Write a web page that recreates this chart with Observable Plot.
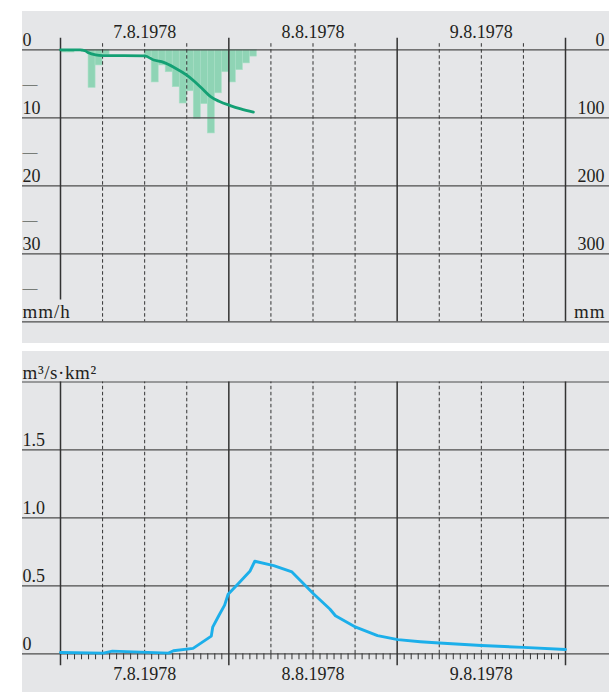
<!DOCTYPE html>
<html><head><meta charset="utf-8">
<script src="https://cdn.jsdelivr.net/npm/d3@7"></script>
<script src="https://cdn.jsdelivr.net/npm/@observablehq/plot@0.6"></script>
<style>
body{margin:0;background:#fff;}
#wrap{position:relative;width:609px;height:695px;overflow:hidden;}
.bg{position:absolute;background:#e5e6e8;}
#topChart,#botChart{position:absolute;left:0;}
#topChart{top:0}
#botChart{top:347px}
</style></head><body>
<div id="wrap">
<div class="bg" style="left:22px;top:11px;width:587px;height:332px"></div>
<div class="bg" style="left:22px;top:351px;width:587px;height:341px"></div>
<div id="topChart"></div><div id="botChart"></div>
</div>
<script>
// ---- data ----
const dayLabels = ["7.8.1978", "8.8.1978", "9.8.1978"];
const dayMid = [12, 36, 60];          // hours since 7.8.1978 00:00
const dayBounds = [0, 24, 48, 72];
const sixHours = [6, 12, 18, 30, 36, 42, 54, 60, 66];

// hourly rainfall intensity (mm/h)
const rainHour = [0,1,2,3,4,5,6,7,8,9,10,11,12,13,14,15,16,17,18,19,20,21,22,23,24,25,26,27];
const rainRate = [0.4,0.4,0.2,0.3,5.6,2.3,0.7,0,0,0,0,0,1.0,4.8,2.3,3.3,5.5,7.9,6.1,10.2,8.0,12.3,6.4,3.3,4.8,3.0,2.0,1.0];

// cumulative rainfall (mm)
const cumHour = [0,2.8,3.5,4,5,6,12,13.3,14.7,16.2,18.1,20,21.4,22.6,24.2,25.7,27.5];
const cumMm   = [0,0,1.5,4.5,7.5,8.5,8.8,15,18.5,25.9,38,55,68.8,75.7,82,86.9,91.7];

// specific runoff (m3/s·km2)
const qHour = [0,6.1,7.4,15.4,16.1,18.9,21.5,21.7,22.6,23.4,23.9,25.4,27,27.7,30.4,33,34.2,36.1,38.4,39.2,42.1,45.2,48.1,51.3,54,60,66,72];
const qVal  = [0.01,0.005,0.02,0.005,0.022,0.04,0.13,0.196,0.284,0.358,0.438,0.52,0.607,0.681,0.649,0.602,0.54,0.44,0.33,0.28,0.196,0.134,0.104,0.089,0.079,0.061,0.047,0.032];

const rainTicks = [0, 10, 20, 30];
const rainTickLabels = ["0", "10", "20", "30"];
const rainMinor = [5, 15, 25, 35];
const sumTickLabels = ["0", "100", "200", "300"];
const qTicks = [0, 0.5, 1, 1.5];
const qTickLabels = ["0", "0.5", "1.0", "1.5"];
const unitRate = "mm/h", unitSum = "mm", unitQ = "m³/s·km²";

// ---- layout ----
const W = 609, ML = 60, MR = 44, PANEL_L = 22;
const pxPerHour = (W - ML - MR) / 72;
const xLo = (PANEL_L - ML) / pxPerHour;
const xHi = (W - ML) / pxPerHour;
const FONT = "Liberation Serif, Times New Roman, serif";
const FS = 18;
const INK = "#231f20";
const GRID = "#4d4d4d";

const rain = rainHour.map((h, i) => ({h, v: rainRate[i]}));
const cum = cumHour.map((h, i) => ({h, mm: cumMm[i]}));
const runoff = qHour.map((h, i) => ({h, q: qVal[i]}));
const hourTicks = d3.range(1, 72).filter(h => h % 24 !== 0);

const txt = {fontFamily: FONT, fontSize: FS, fill: INK, lineAnchor: "bottom"};
const unitTxt = {...txt, fontSize: 19};

const topPlot = Plot.plot({
  width: W, height: 347,
  marginLeft: ML, marginRight: MR, marginTop: 49.3, marginBottom: 25.7,
  style: {background: "none", overflow: "visible"},
  x: {domain: [0, 72], axis: null},
  y: {domain: [0, 40], reverse: true, axis: null},
  marks: [
    Plot.rect(rain, {x1: "h", x2: d => d.h + 1, y1: 0, y2: "v", fill: "#8fd4b5", stroke: "#a9dfc7", strokeWidth: 0.6}),
    Plot.ruleY([0, 10, 20, 30, 40], {x1: () => xLo, x2: () => xHi, stroke: GRID, strokeWidth: 1.2}),
    Plot.ruleX(sixHours, {y1: -0.9, y2: 40, stroke: "#333", strokeWidth: 1, strokeDasharray: "3.5,2.5"}),
    Plot.ruleX([24, 48, 72], {y1: -1.7, y2: 40, stroke: "#333", strokeWidth: 1.5}),
    Plot.ruleX([0], {y1: -1.7, y2: 36.8, stroke: "#333", strokeWidth: 1.5}),
    Plot.line(cum, {x: "h", y: d => d.mm / 10, stroke: "#14a074", strokeWidth: 2.8, curve: "monotone-x"}),
    Plot.text(rainTicks, {...txt, y: d => d, text: (d, i) => rainTickLabels[i], frameAnchor: "left", textAnchor: "start", dx: PANEL_L - ML, dy: -3.5}),
    Plot.text(rainMinor, {...txt, lineAnchor: "middle", fontSize: 15, y: d => d, text: () => "—", frameAnchor: "left", textAnchor: "start", dx: PANEL_L - ML}),
    Plot.text([40], {...unitTxt, y: d => d, text: () => unitRate, frameAnchor: "left", textAnchor: "start", dx: PANEL_L - ML, dy: -3.5}),
    Plot.text(rainTicks, {...txt, y: d => d, text: (d, i) => sumTickLabels[i], frameAnchor: "right", textAnchor: "end", dx: MR - 5, dy: -3.5}),
    Plot.text([40], {...unitTxt, y: d => d, text: () => unitSum, frameAnchor: "right", textAnchor: "end", dx: MR - 4, dy: -3.5}),
    Plot.text(dayMid, {...txt, x: d => d, text: (d, i) => dayLabels[i], frameAnchor: "top", textAnchor: "middle", dy: -12})
  ]
});
document.getElementById("topChart").appendChild(topPlot);

const botPlot = Plot.plot({
  width: W, height: 348,
  marginLeft: ML, marginRight: MR, marginTop: 34.5, marginBottom: 41.7,
  style: {background: "none", overflow: "visible"},
  x: {domain: [0, 72], axis: null},
  y: {domain: [0, 2], axis: null},
  marks: [
    Plot.ruleY([0, 0.5, 1, 1.5, 2], {x1: () => xLo, x2: () => xHi, stroke: GRID, strokeWidth: 1.2}),
    Plot.ruleX(sixHours, {y1: 0, y2: 2, stroke: "#333", strokeWidth: 1, strokeDasharray: "3.5,2.5"}),
    Plot.ruleX(dayBounds, {y1: -0.088, y2: 2, stroke: "#333", strokeWidth: 1.5}),
    Plot.ruleX(hourTicks, {y1: 0, y2: -0.044, stroke: "#333", strokeWidth: 1}),
    Plot.line(runoff, {x: "h", y: "q", stroke: "#1cafea", strokeWidth: 2.9, strokeLinejoin: "round"}),
    Plot.text(qTicks, {...txt, y: d => d, text: (d, i) => qTickLabels[i], frameAnchor: "left", textAnchor: "start", dx: PANEL_L - ML, dy: -3.5}),
    Plot.text([2], {...unitTxt, y: d => d, text: () => unitQ, frameAnchor: "left", textAnchor: "start", dx: PANEL_L - ML, dy: -3.5}),
    Plot.text(dayMid, {...txt, x: d => d, text: (d, i) => dayLabels[i], frameAnchor: "bottom", textAnchor: "middle", dy: 26})
  ]
});
document.getElementById("botChart").appendChild(botPlot);

// widen the unit labels slightly, as in the original typesetting
d3.selectAll("svg text").filter(function() { return this.textContent === unitRate || this.textContent === unitSum; }).style("letter-spacing", "1px");
d3.selectAll("svg text").filter(function() { return this.textContent === unitQ; }).style("letter-spacing", "0.6px");
</script>
</body></html>
